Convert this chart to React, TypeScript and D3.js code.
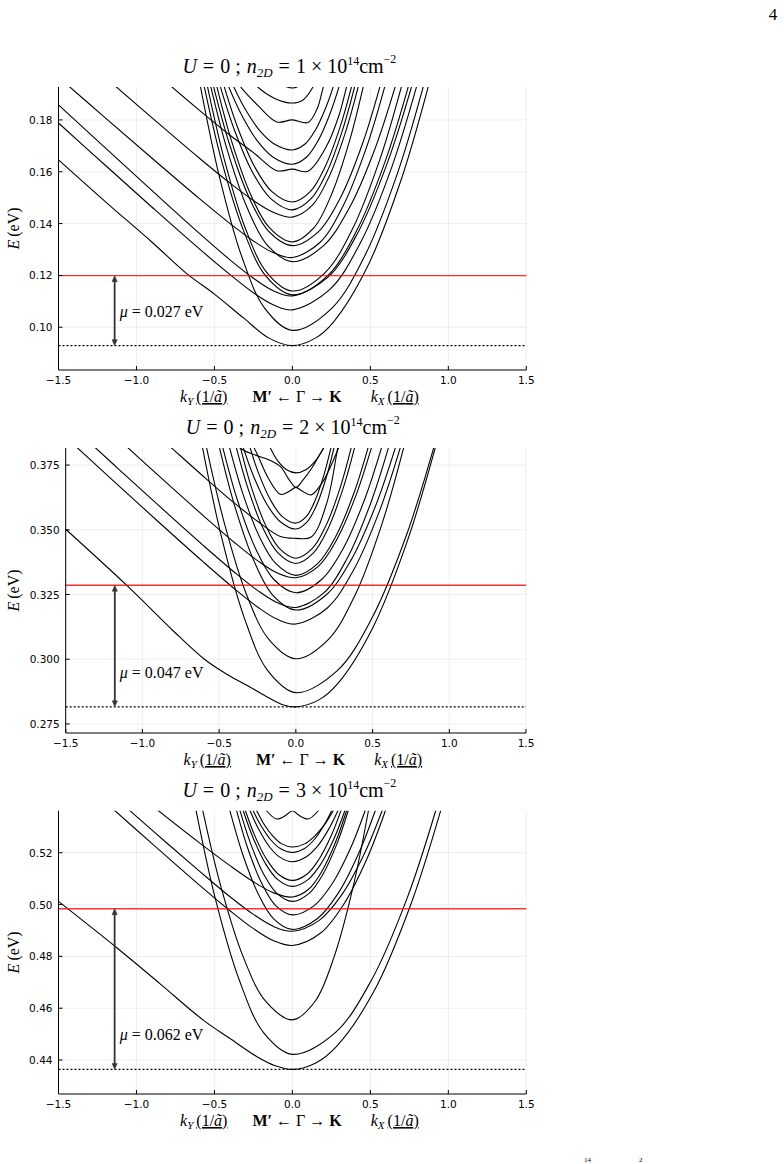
import React from "react";
import * as d3 from "d3";

type Pt = [number, number];

// k axis (1/ã), shared by the three panels
const kTicks = [-1.5, -1, -0.5, 0, 0.5, 1, 1.5];

// energy ticks (eV)
const eTicks1 = [0.1, 0.12, 0.14, 0.16, 0.18];
const eTicks2 = [0.275, 0.3, 0.325, 0.35, 0.375];
const eTicks3 = [0.44, 0.46, 0.48, 0.5, 0.52];

// carrier densities (×10^14 cm^-2), chemical potentials and band bottoms (eV)
const densities = [1, 2, 3];
const muValues = [0.027, 0.047, 0.062];
const bandBottoms = [0.0929, 0.2816, 0.4364];

// subbands, n2D = 1e14 : [k, E]
const bands1: Pt[][] = [
  [[-1.5, 0.1646], [-1.2, 0.1485], [-0.9, 0.1328], [-0.68, 0.1208], [-0.5, 0.1128], [-0.31, 0.1034], [-0.15, 0.0958], [0, 0.0929], [0.15, 0.0959], [0.262, 0.1019], [0.48, 0.1232], [0.698, 0.157], [0.872, 0.193], [1.003, 0.2253]],
  [[-0.679, 0.2234], [-0.59, 0.193], [-0.472, 0.1591], [-0.325, 0.1273], [-0.177, 0.1073], [0, 0.0988], [0.252, 0.1073], [0.462, 0.1273], [0.672, 0.1591], [0.84, 0.193], [0.966, 0.2234]],
  [[-1.5, 0.1788], [-1.2, 0.1625], [-0.9, 0.1463], [-0.6, 0.1304], [-0.4, 0.1203], [-0.25, 0.1133], [-0.12, 0.1086], [0, 0.1067], [0.239, 0.1145], [0.438, 0.1328], [0.638, 0.1619], [0.797, 0.193], [0.917, 0.2208]],
  [[-1.5, 0.1858], [-1.2, 0.1692], [-0.9, 0.1527], [-0.6, 0.1364], [-0.4, 0.126], [-0.25, 0.1189], [-0.12, 0.114], [0, 0.1121], [0.23, 0.1194], [0.421, 0.1366], [0.612, 0.1639], [0.765, 0.193], [0.88, 0.2191]],
  [[-0.651, 0.219], [-0.566, 0.193], [-0.453, 0.164], [-0.311, 0.1369], [-0.17, 0.1197], [0, 0.1125], [0.223, 0.1197], [0.409, 0.1369], [0.595, 0.164], [0.744, 0.193], [0.856, 0.219]],
  [[-0.627, 0.2185], [-0.545, 0.193], [-0.436, 0.1646], [-0.3, 0.1379], [-0.164, 0.1211], [0, 0.114], [0.21, 0.1211], [0.385, 0.1379], [0.56, 0.1646], [0.7, 0.193], [0.805, 0.2185]],
  [[-0.603, 0.2148], [-0.524, 0.193], [-0.419, 0.1686], [-0.288, 0.1458], [-0.157, 0.1314], [0, 0.1253], [0.198, 0.1314], [0.363, 0.1458], [0.528, 0.1686], [0.66, 0.193], [0.759, 0.2148]],
  [[-1.5, 0.1965], [-1.2, 0.1808], [-0.9, 0.1652], [-0.6, 0.1498], [-0.4, 0.14], [-0.25, 0.1333], [-0.12, 0.1287], [0, 0.1269], [0.178, 0.1328], [0.326, 0.1469], [0.474, 0.1692], [0.593, 0.193], [0.682, 0.2143]],
  [[-0.582, 0.2128], [-0.506, 0.193], [-0.405, 0.1709], [-0.278, 0.1501], [-0.152, 0.137], [0, 0.1315], [0.169, 0.137], [0.309, 0.1501], [0.45, 0.1709], [0.562, 0.193], [0.646, 0.2128]],
  [[-0.558, 0.2124], [-0.485, 0.193], [-0.388, 0.1714], [-0.267, 0.1511], [-0.146, 0.1383], [0, 0.1329], [0.137, 0.1383], [0.25, 0.1511], [0.364, 0.1714], [0.455, 0.193], [0.523, 0.2124]],
  [[-1.5, 0.2121], [-1.2, 0.1964], [-0.9, 0.1808], [-0.6, 0.1654], [-0.4, 0.1556], [-0.25, 0.1489], [-0.12, 0.1443], [0, 0.1425], [0.127, 0.147], [0.233, 0.1578], [0.338, 0.1748], [0.423, 0.193], [0.486, 0.2093]],
  [[-0.532, 0.2084], [-0.463, 0.193], [-0.37, 0.1758], [-0.255, 0.1597], [-0.139, 0.1496], [0, 0.1453], [0.12, 0.1496], [0.22, 0.1597], [0.32, 0.1758], [0.4, 0.193], [0.46, 0.2084]],
  [[-0.504, 0.2074], [-0.438, 0.193], [-0.35, 0.1769], [-0.241, 0.1618], [-0.131, 0.1523], [0, 0.1483], [0.114, 0.1523], [0.209, 0.1618], [0.304, 0.1769], [0.38, 0.193], [0.437, 0.2074]],
  [[-0.9, 0.1993], [-0.6, 0.1839], [-0.4, 0.1741], [-0.25, 0.1674], [-0.1, 0.1604], [0, 0.161], [0.1, 0.1602], [0.22, 0.17], [0.3, 0.182], [0.348, 0.193], [0.4, 0.206]],
  [[-0.472, 0.2027], [-0.41, 0.193], [-0.328, 0.1822], [-0.226, 0.172], [-0.123, 0.1656], [0, 0.1629], [0.09, 0.1656], [0.165, 0.172], [0.24, 0.1822], [0.3, 0.193], [0.345, 0.2027]],
  [[-0.435, 0.2009], [-0.378, 0.193], [-0.302, 0.1841], [-0.208, 0.1758], [-0.113, 0.1706], [0, 0.1684], [0.079, 0.1706], [0.145, 0.1758], [0.21, 0.1841], [0.263, 0.193], [0.302, 0.2009]],
  [[-0.4, 0.199], [-0.335, 0.193], [-0.22, 0.1855], [-0.1, 0.1792], [0, 0.18], [0.1, 0.179], [0.16, 0.1845], [0.2, 0.193], [0.24, 0.199]],
  [[-0.27, 0.196], [-0.228, 0.193], [-0.12, 0.1885], [0, 0.1865], [0.07, 0.1878], [0.135, 0.193], [0.16, 0.196]],
  [[-0.12, 0.195], [-0.07, 0.1935], [0, 0.1923], [0.04, 0.193], [0.08, 0.195]],
];

// subbands, n2D = 2e14
const bands2: Pt[][] = [
  [[-1.5, 0.3502], [-1.1, 0.3284], [-0.8, 0.311], [-0.6, 0.3002], [-0.45, 0.2942], [-0.3, 0.2893], [-0.18, 0.2852], [-0.08, 0.2823], [0, 0.2816], [0.15, 0.2843], [0.273, 0.2906], [0.5, 0.312], [0.728, 0.3459], [0.91, 0.382], [1.047, 0.4144]],
  [[-0.7, 0.4126], [-0.609, 0.382], [-0.487, 0.3478], [-0.335, 0.3158], [-0.183, 0.2956], [0, 0.2871], [0.27, 0.2956], [0.495, 0.3158], [0.72, 0.3478], [0.9, 0.382], [1.035, 0.4126]],
  [[-0.67, 0.4084], [-0.583, 0.382], [-0.466, 0.3526], [-0.321, 0.3249], [-0.175, 0.3076], [0, 0.3002], [0.211, 0.3076], [0.387, 0.3249], [0.563, 0.3526], [0.704, 0.382], [0.81, 0.4084]],
  [[-1.5, 0.3858], [-1.2, 0.3695], [-0.9, 0.3533], [-0.6, 0.3374], [-0.4, 0.3272], [-0.25, 0.3202], [-0.12, 0.3154], [0, 0.3136], [0.205, 0.3198], [0.375, 0.3343], [0.546, 0.3574], [0.682, 0.382], [0.784, 0.4041]],
  [[-0.574, 0.4023], [-0.499, 0.382], [-0.399, 0.3593], [-0.274, 0.3381], [-0.15, 0.3247], [0, 0.319], [0.195, 0.3247], [0.358, 0.3381], [0.52, 0.3593], [0.65, 0.382], [0.748, 0.4023]],
  [[-1.5, 0.3922], [-1.2, 0.3759], [-0.9, 0.3597], [-0.6, 0.3438], [-0.4, 0.3336], [-0.25, 0.3266], [-0.12, 0.3218], [0, 0.32], [0.182, 0.3256], [0.333, 0.3388], [0.484, 0.3597], [0.605, 0.382], [0.696, 0.402]],
  [[-0.549, 0.4002], [-0.477, 0.382], [-0.382, 0.3617], [-0.262, 0.3427], [-0.143, 0.3308], [0, 0.3257], [0.168, 0.3308], [0.308, 0.3427], [0.448, 0.3617], [0.56, 0.382], [0.644, 0.4002]],
  [[-1.2, 0.3874], [-0.9, 0.3712], [-0.6, 0.3553], [-0.4, 0.3451], [-0.25, 0.3381], [-0.12, 0.3333], [0, 0.3315], [0.148, 0.336], [0.272, 0.3468], [0.395, 0.3638], [0.494, 0.382], [0.568, 0.3983]],
  [[-0.498, 0.398], [-0.433, 0.382], [-0.346, 0.3641], [-0.238, 0.3474], [-0.13, 0.3369], [0, 0.3324], [0.142, 0.3369], [0.26, 0.3474], [0.378, 0.3641], [0.472, 0.382], [0.543, 0.398]],
  [[-0.447, 0.3965], [-0.389, 0.382], [-0.311, 0.3658], [-0.214, 0.3506], [-0.117, 0.3411], [0, 0.337], [0.115, 0.3411], [0.211, 0.3506], [0.307, 0.3658], [0.384, 0.382], [0.442, 0.3965]],
  [[-0.416, 0.3959], [-0.362, 0.382], [-0.29, 0.3665], [-0.199, 0.352], [-0.109, 0.3429], [0, 0.339], [0.109, 0.3429], [0.199, 0.352], [0.29, 0.3665], [0.362, 0.382], [0.416, 0.3959]],
  [[-1, 0.3918], [-0.8, 0.3811], [-0.6, 0.3705], [-0.4, 0.3603], [-0.25, 0.3533], [-0.1, 0.3474], [0, 0.3467], [0.1, 0.3472], [0.2, 0.36], [0.274, 0.382], [0.33, 0.4]],
  [[-0.396, 0.3922], [-0.344, 0.382], [-0.275, 0.3706], [-0.189, 0.3599], [-0.103, 0.3532], [0, 0.3503], [0.075, 0.3532], [0.138, 0.3599], [0.2, 0.3706], [0.25, 0.382], [0.288, 0.3922]],
  [[-0.345, 0.3915], [-0.3, 0.382], [-0.24, 0.3714], [-0.165, 0.3615], [-0.09, 0.3552], [0, 0.3526], [0.069, 0.3552], [0.127, 0.3615], [0.184, 0.3714], [0.23, 0.382], [0.265, 0.3915]],
  [[-0.6, 0.393], [-0.45, 0.386], [-0.344, 0.3808], [-0.17, 0.3769], [-0.1, 0.3744], [-0.04, 0.369], [0, 0.3664], [0.05, 0.3695], [0.1, 0.3735], [0.15, 0.3785], [0.2, 0.3835]],
  [[-0.3, 0.385], [-0.25, 0.379], [-0.18, 0.37], [-0.1, 0.3637], [-0.04, 0.365], [0, 0.3664], [0.04, 0.365], [0.1, 0.3635], [0.18, 0.369], [0.26, 0.379], [0.3, 0.385]],
  [[-0.2, 0.3853], [-0.17, 0.382], [-0.12, 0.3768], [-0.06, 0.3732], [0, 0.372], [0.065, 0.3732], [0.13, 0.3768], [0.185, 0.382], [0.22, 0.3856]],
];

// subbands, n2D = 3e14
const bands3: Pt[][] = [
  [[-1.5, 0.5012], [-1.136, 0.4838], [-0.85, 0.4695], [-0.574, 0.4555], [-0.4, 0.4483], [-0.227, 0.4413], [-0.11, 0.4378], [0, 0.4364], [0.15, 0.4389], [0.285, 0.4454], [0.523, 0.4665], [0.76, 0.5001], [0.95, 0.536], [1.093, 0.5681]],
  [[-0.71, 0.5663], [-0.617, 0.536], [-0.494, 0.5022], [-0.339, 0.4706], [-0.185, 0.4506], [0, 0.4422], [0.275, 0.4506], [0.505, 0.4706], [0.734, 0.5022], [0.918, 0.536], [1.056, 0.5663]],
  [[-0.66, 0.562], [-0.574, 0.536], [-0.459, 0.507], [-0.316, 0.4799], [-0.172, 0.4627], [0, 0.4555], [0.146, 0.4627], [0.268, 0.4799], [0.39, 0.507], [0.487, 0.536], [0.56, 0.562]],
  [[-1.2, 0.5395], [-0.9, 0.5235], [-0.6, 0.5077], [-0.4, 0.4976], [-0.25, 0.4907], [-0.12, 0.486], [0, 0.4842], [0.179, 0.4889], [0.327, 0.4999], [0.476, 0.5174], [0.595, 0.536], [0.684, 0.5527]],
  [[-1.2, 0.5446], [-0.9, 0.5287], [-0.6, 0.5131], [-0.4, 0.503], [-0.25, 0.4962], [-0.12, 0.4915], [0, 0.4897], [0.172, 0.4939], [0.316, 0.5037], [0.459, 0.5193], [0.574, 0.536], [0.66, 0.5509]],
  [[-0.46, 0.5507], [-0.4, 0.536], [-0.32, 0.5196], [-0.22, 0.5042], [-0.12, 0.4945], [0, 0.4904], [0.159, 0.4945], [0.292, 0.5042], [0.424, 0.5196], [0.53, 0.536], [0.61, 0.5507]],
  [[-0.41, 0.5489], [-0.357, 0.536], [-0.286, 0.5216], [-0.196, 0.5081], [-0.107, 0.4996], [0, 0.496], [0.14, 0.4996], [0.256, 0.5081], [0.372, 0.5216], [0.465, 0.536], [0.535, 0.5489]],
  [[-0.385, 0.5472], [-0.335, 0.536], [-0.268, 0.5235], [-0.184, 0.5117], [-0.1, 0.5043], [0, 0.5012], [0.107, 0.5043], [0.196, 0.5117], [0.286, 0.5235], [0.357, 0.536], [0.41, 0.5472]],
  [[-1.2, 0.5525], [-0.9, 0.5381], [-0.6, 0.524], [-0.4, 0.515], [-0.25, 0.5088], [-0.12, 0.5045], [0, 0.5029], [0.104, 0.5059], [0.19, 0.5129], [0.277, 0.5241], [0.346, 0.536], [0.398, 0.5467]],
  [[-0.361, 0.5454], [-0.314, 0.536], [-0.251, 0.5256], [-0.173, 0.5158], [-0.094, 0.5096], [0, 0.507], [0.1, 0.5096], [0.184, 0.5158], [0.268, 0.5256], [0.335, 0.536], [0.385, 0.5454]],
  [[-0.345, 0.5446], [-0.3, 0.536], [-0.24, 0.5264], [-0.165, 0.5174], [-0.09, 0.5117], [0, 0.5093], [0.093, 0.5117], [0.17, 0.5174], [0.248, 0.5264], [0.31, 0.536], [0.357, 0.5446]],
  [[-0.31, 0.5423], [-0.27, 0.536], [-0.216, 0.529], [-0.149, 0.5224], [-0.081, 0.5183], [0, 0.5165], [0.087, 0.5183], [0.16, 0.5224], [0.232, 0.529], [0.29, 0.536], [0.334, 0.5423]],
  [[-0.288, 0.5411], [-0.25, 0.536], [-0.2, 0.5303], [-0.138, 0.5249], [-0.075, 0.5215], [0, 0.5201], [0.075, 0.5215], [0.138, 0.5249], [0.2, 0.5303], [0.25, 0.536], [0.288, 0.5411]],
  [[-0.261, 0.5405], [-0.227, 0.536], [-0.182, 0.531], [-0.125, 0.5264], [-0.068, 0.5234], [0, 0.5222], [0.078, 0.5234], [0.143, 0.5264], [0.208, 0.531], [0.26, 0.536], [0.299, 0.5405]],
  [[-0.2, 0.54], [-0.16, 0.5358], [-0.1, 0.533], [-0.04, 0.5345], [0, 0.5362], [0.04, 0.5345], [0.1, 0.533], [0.16, 0.5358], [0.2, 0.54]],
];

const SERIF = "'Liberation Serif', 'DejaVu Serif', serif";
const SANS = "'DejaVu Sans', Roboto, sans-serif";

interface PanelCfg {
  id: string;
  left: number;
  right: number;
  top: number;
  bottom: number;
  eDomain: [number, number];
  eTicks: number[];
  eFmt: string;
  density: number;
  mu: number;
  base: number;
  arrowK: number;
  bands: Pt[][];
}

const panels: PanelCfg[] = [
  { id: "p1", left: 58.5, right: 526.3, top: 87, bottom: 370, eDomain: [0.0835, 0.1927], eTicks: eTicks1, eFmt: ".2f", density: densities[0], mu: muValues[0], base: bandBottoms[0], arrowK: -1.14, bands: bands1 },
  { id: "p2", left: 65.7, right: 526, top: 448, bottom: 733, eDomain: [0.2715, 0.3816], eTicks: eTicks2, eFmt: ".3f", density: densities[1], mu: muValues[1], base: bandBottoms[1], arrowK: -1.18, bands: bands2 },
  { id: "p3", left: 58.5, right: 526.3, top: 810.7, bottom: 1094, eDomain: [0.4269, 0.5362], eTicks: eTicks3, eFmt: ".2f", density: densities[2], mu: muValues[2], base: bandBottoms[2], arrowK: -1.14, bands: bands3 },
];

function Panel({ cfg }: { cfg: PanelCfg }) {
  const x = d3.scaleLinear().domain([-1.5, 1.5]).range([cfg.left, cfg.right]);
  const y = d3.scaleLinear().domain(cfg.eDomain).range([cfg.bottom, cfg.top]);
  const line = d3
    .line<Pt>()
    .x((d) => x(d[0]))
    .y((d) => y(d[1]))
    .curve(d3.curveCatmullRom.alpha(0.5));
  const fx = d3.format(".1f");
  const fy = d3.format(cfg.eFmt);
  const cx = (cfg.left + cfg.right) / 2;

  const yBase = y(cfg.base);
  const yMu = y(cfg.base + cfg.mu);
  const ax = x(cfg.arrowK);

  return (
    <g>
      <defs>
        <clipPath id={`clip-${cfg.id}`}>
          <rect x={cfg.left} y={cfg.top} width={cfg.right - cfg.left} height={cfg.bottom - cfg.top} />
        </clipPath>
      </defs>

      {/* grid */}
      <g stroke="#e6e6e6" strokeWidth={0.7}>
        {kTicks.map((k) => (
          <line key={`gx${k}`} x1={x(k)} x2={x(k)} y1={cfg.top} y2={cfg.bottom} />
        ))}
        {cfg.eTicks.map((e) => (
          <line key={`gy${e}`} x1={cfg.left} x2={cfg.right} y1={y(e)} y2={y(e)} />
        ))}
      </g>

      {/* subbands */}
      <g clipPath={`url(#clip-${cfg.id})`} fill="none" stroke="#000" strokeWidth={1.1}>
        {cfg.bands.map((b, i) => (
          <path key={i} d={line(b) || ""} />
        ))}
      </g>

      {/* chemical potential and band bottom */}
      <line x1={cfg.left} x2={cfg.right} y1={yMu} y2={yMu} stroke="#ff0000" strokeWidth={1.4} opacity={0.8} />
      <line x1={cfg.left} x2={cfg.right} y1={yBase} y2={yBase} stroke="#000" strokeWidth={1.1} strokeDasharray="2,2" />

      {/* double arrow */}
      <g stroke="#333" fill="#333">
        <line x1={ax} x2={ax} y1={yMu + 5} y2={yBase - 5} strokeWidth={1.8} />
        <path d={`M${ax},${yMu} L${ax - 2.6},${yMu + 6} L${ax + 2.6},${yMu + 6} Z`} strokeWidth={0.5} />
        <path d={`M${ax},${yBase} L${ax - 2.6},${yBase - 6} L${ax + 2.6},${yBase - 6} Z`} strokeWidth={0.5} />
      </g>
      <text x={ax + 5} y={yBase - 29} fontFamily={SERIF} fontSize={16} fill="#000">
        <tspan fontStyle="italic">μ</tspan> = {cfg.mu.toFixed(3)} eV
      </text>

      {/* axes */}
      <g stroke="#000" strokeWidth={1}>
        <line x1={cfg.left} x2={cfg.right} y1={cfg.bottom} y2={cfg.bottom} />
        <line x1={cfg.left} x2={cfg.left} y1={cfg.top} y2={cfg.bottom} />
        {kTicks.map((k) => (
          <line key={`tx${k}`} x1={x(k)} x2={x(k)} y1={cfg.bottom} y2={cfg.bottom - 4} />
        ))}
        {cfg.eTicks.map((e) => (
          <line key={`ty${e}`} x1={cfg.left} x2={cfg.left + 4} y1={y(e)} y2={y(e)} />
        ))}
      </g>
      <g fontFamily={SANS} fontSize={10.5} fill="#000">
        {kTicks.map((k) => (
          <text key={`lx${k}`} x={x(k)} y={cfg.bottom + 14} textAnchor="middle">
            {fx(k)}
          </text>
        ))}
        {cfg.eTicks.map((e) => (
          <text key={`ly${e}`} x={cfg.left - 6} y={y(e) + 4} textAnchor="end">
            {fy(e)}
          </text>
        ))}
      </g>

      {/* title */}
      <text x={cx - 3} y={cfg.top - 14} textAnchor="middle" fontFamily={SERIF} fontSize={20} fill="#000">
        <tspan fontStyle="italic">U</tspan>
        <tspan dx={6}>=</tspan>
        <tspan dx={6}>0 ;</tspan>
        <tspan dx={6} fontStyle="italic">n</tspan>
        <tspan fontSize={13} dy={4} fontStyle="italic">2D</tspan>
        <tspan dy={-4} dx={6}>=</tspan>
        <tspan dx={6}>{cfg.density}</tspan>
        <tspan dx={5}>×</tspan>
        <tspan dx={5}>10</tspan>
        <tspan fontSize={12} dy={-8}>14</tspan>
        <tspan dy={8}>cm</tspan>
        <tspan fontSize={12} dy={-10}>−2</tspan>
      </text>

      {/* x label */}
      <text x={cx + 7} y={cfg.bottom + 32} textAnchor="middle" fontFamily={SERIF} fontSize={16} fill="#000">
        <tspan fontStyle="italic">k</tspan>
        <tspan fontSize={11} dy={3} fontStyle="italic">Y</tspan>
        <tspan dy={-3} dx={3} textDecoration="underline">
          (1/<tspan fontStyle="italic">ã</tspan>)
        </tspan>
        <tspan dx={25} fontWeight="bold">M′</tspan>
        <tspan> ← Γ → </tspan>
        <tspan fontWeight="bold">K</tspan>
        <tspan dx={29} fontStyle="italic">k</tspan>
        <tspan fontSize={11} dy={3} fontStyle="italic">X</tspan>
        <tspan dy={-3} dx={3} textDecoration="underline">
          (1/<tspan fontStyle="italic">ã</tspan>)
        </tspan>
      </text>

      {/* y label */}
      <text
        transform={`translate(19,${(cfg.top + cfg.bottom) / 2}) rotate(-90)`}
        textAnchor="middle"
        fontFamily={SERIF}
        fontSize={16}
        fill="#000"
      >
        <tspan fontStyle="italic">E</tspan>
        <tspan dx={3}>(eV)</tspan>
      </text>
    </g>
  );
}

export default function App() {
  return (
    <svg
      width={784}
      height={1164}
      viewBox="0 0 784 1164"
      style={{ position: "absolute", left: 0, top: 0, background: "#fff" }}
    >
      <rect width={784} height={1164} fill="#fff" />
      <text x={773} y={20} textAnchor="middle" fontFamily={SERIF} fontSize={17} fill="#000">
        4
      </text>
      {panels.map((p) => (
        <Panel key={p.id} cfg={p} />
      ))}
      <g fontFamily={SERIF} fontSize={7} fill="#000">
        <text x={584} y={1162}>14</text>
        <text x={639} y={1162}>2</text>
      </g>
    </svg>
  );
}
